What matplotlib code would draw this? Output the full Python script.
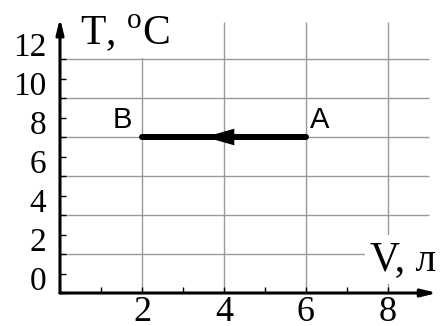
import matplotlib
matplotlib.use("Agg")
import matplotlib.pyplot as plt
from matplotlib.patches import FancyArrowPatch

plt.rcParams["mathtext.fontset"] = "custom"
plt.rcParams["mathtext.rm"] = "Liberation Serif"

# process A -> B at constant temperature
volume = [6, 2]        # V, л
temperature = [8, 8]   # T, °C
state_names = ["A", "B"]

v_labels = [2, 4, 6, 8]
t_labels = [0, 2, 4, 6, 8, 10, 12]
v_ticks = list(range(1, 9))
t_ticks = list(range(0, 13))

SERIF = "Liberation Serif"
GRID = "#9a9a9a"

fig = plt.figure(figsize=(4.44, 3.26), dpi=100)
ax = fig.add_axes([0.1351, 0.1012, 0.8588, 0.8494])
ax.set_xlim(0, 9.3)
ax.set_ylim(0, 14.2)
for s in ax.spines.values():
    s.set_visible(False)

# grid
ax.hlines(t_labels[1:], 0, 9.0, color=GRID, lw=1.0, zorder=1)
ax.vlines(v_labels, 0, 13.9, color=GRID, lw=1.0, zorder=1)

ax.set_xticks(v_ticks)
ax.set_yticks(t_ticks)
ax.tick_params(direction="in", length=4, width=1.0, labelbottom=False, labelleft=False)

# axes drawn as arrows
for end in [(9.2, 0), (0, 14.1)]:
    ax.add_patch(FancyArrowPatch((0, 0), end, arrowstyle="-|>,head_length=0.9,head_width=0.22",
                                 mutation_scale=10, lw=2.2, color="black",
                                 shrinkA=0, shrinkB=0, zorder=4, clip_on=False))

# tick labels
for v in v_labels:
    ax.annotate(str(v), (v, 0), xytext=(0, -2), textcoords="offset points",
                ha="center", va="top", fontsize=26, family=SERIF)
for t in t_labels:
    ax.annotate(str(t), (0, t), xytext=(-10, 2), textcoords="offset points",
                ha="right", va="baseline", fontsize=24, family=SERIF)

# axis titles
box = dict(boxstyle="square,pad=0.12", fc="white", ec="none")
ax.text(0.49, 12.77, r"T, $^{\mathrm{o}}$C", fontsize=30, family=SERIF,
        va="baseline", bbox=box, zorder=2)
ax.text(7.56, 1.18, "V, л", fontsize=30, family=SERIF,
        va="baseline", bbox=box, zorder=2)

# process line with direction arrow in the middle
ax.plot(volume, temperature, color="black", lw=4.3, solid_capstyle="round", zorder=3)
vm = sum(volume) / 2
tm = sum(temperature) / 2
sign = 1 if volume[1] > volume[0] else -1
ax.annotate("", xy=(vm + sign * 0.46, tm), xytext=(vm - sign * 0.27, tm),
            arrowprops=dict(arrowstyle="-|>,head_length=2.1,head_width=0.6",
                            mutation_scale=10, lw=0, color="black",
                            shrinkA=0, shrinkB=0), zorder=3)

# state labels
ax.annotate(state_names[0], (volume[0], temperature[0]), xytext=(3, 6.5),
            textcoords="offset points", ha="left", va="baseline",
            fontsize=21, family="Liberation Sans")
ax.annotate(state_names[1], (volume[1], temperature[1]), xytext=(-7, 6.5),
            textcoords="offset points", ha="right", va="baseline",
            fontsize=21, family="Liberation Sans")

fig.savefig("out.png", dpi=100)
